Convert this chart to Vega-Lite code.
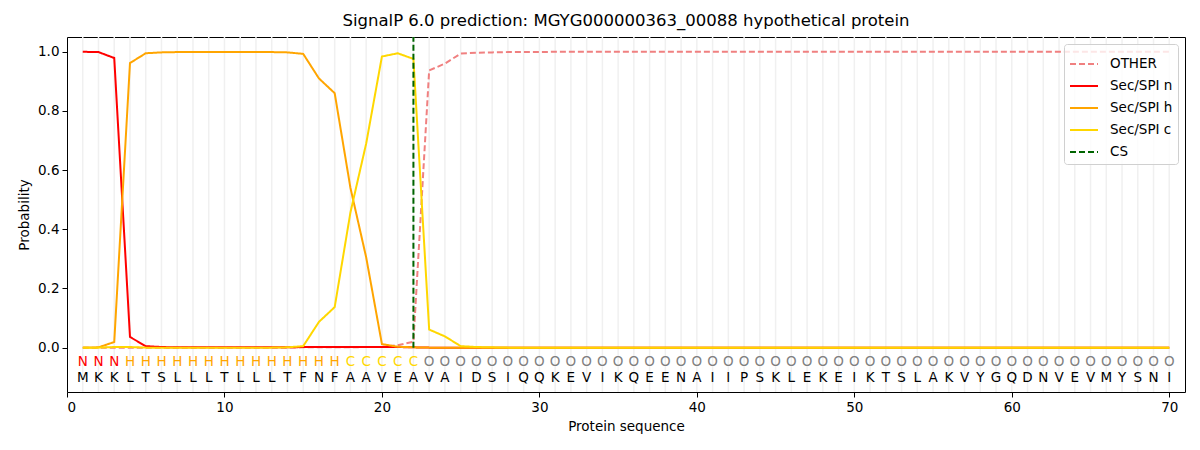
{
  "$schema": "https://vega.github.io/schema/vega-lite/v6.json",
  "width": 1118,
  "height": 355,
  "autosize": "none",
  "padding": {"left": 67, "top": 37, "right": 15, "bottom": 58},
  "title": {
    "text": "SignalP 6.0 prediction: MGYG000000363_00088 hypothetical protein",
    "fontSize": 16.5,
    "fontWeight": "normal",
    "color": "black",
    "offset": 7
  },
  "config": {
    "font": "DejaVu Sans",
    "view": {"stroke": "black", "strokeWidth": 1},
    "axis": {
      "labelFontSize": 13.5,
      "titleFontSize": 13.5,
      "titleFontWeight": "normal",
      "labelColor": "black",
      "titleColor": "black",
      "tickColor": "black",
      "tickSize": 5,
      "labelPadding": 3,
      "domain": false,
      "grid": false
    },
    "legend": {
      "orient": "top-right",
      "offset": 7,
      "fillColor": "rgba(255,255,255,0.8)",
      "strokeColor": "#d0d0d0",
      "cornerRadius": 3,
      "padding": 5,
      "labelFontSize": 13.5,
      "labelColor": "black",
      "labelOffset": 11,
      "symbolType": "stroke",
      "symbolStrokeWidth": 2,
      "symbolSize": 784,
      "rowPadding": 0
    }
  },
  "data": {
    "values": [
      {"pos": 1, "aa": "M", "lab": "N", "OTHER": 0.0, "n": 1.0, "h": 0.0, "c": 0.0},
      {"pos": 2, "aa": "K", "lab": "N", "OTHER": 0.0, "n": 0.999, "h": 0.001, "c": 0.0},
      {"pos": 3, "aa": "K", "lab": "N", "OTHER": 0.0, "n": 0.979, "h": 0.019, "c": 0.002},
      {"pos": 4, "aa": "L", "lab": "H", "OTHER": 0.0, "n": 0.036, "h": 0.962, "c": 0.002},
      {"pos": 5, "aa": "T", "lab": "H", "OTHER": 0.0, "n": 0.005, "h": 0.995, "c": 0.0},
      {"pos": 6, "aa": "S", "lab": "H", "OTHER": 0.0, "n": 0.002, "h": 0.998, "c": 0.0},
      {"pos": 7, "aa": "L", "lab": "H", "OTHER": 0.0, "n": 0.001, "h": 0.999, "c": 0.0},
      {"pos": 8, "aa": "L", "lab": "H", "OTHER": 0.0, "n": 0.001, "h": 0.999, "c": 0.0},
      {"pos": 9, "aa": "L", "lab": "H", "OTHER": 0.0, "n": 0.001, "h": 0.999, "c": 0.0},
      {"pos": 10, "aa": "T", "lab": "H", "OTHER": 0.0, "n": 0.001, "h": 0.999, "c": 0.0},
      {"pos": 11, "aa": "L", "lab": "H", "OTHER": 0.0, "n": 0.001, "h": 0.999, "c": 0.0},
      {"pos": 12, "aa": "L", "lab": "H", "OTHER": 0.0, "n": 0.001, "h": 0.999, "c": 0.0},
      {"pos": 13, "aa": "L", "lab": "H", "OTHER": 0.0, "n": 0.001, "h": 0.999, "c": 0.0},
      {"pos": 14, "aa": "T", "lab": "H", "OTHER": 0.0, "n": 0.001, "h": 0.998, "c": 0.001},
      {"pos": 15, "aa": "F", "lab": "H", "OTHER": 0.001, "n": 0.002, "h": 0.993, "c": 0.005},
      {"pos": 16, "aa": "N", "lab": "H", "OTHER": 0.001, "n": 0.002, "h": 0.91, "c": 0.087},
      {"pos": 17, "aa": "F", "lab": "H", "OTHER": 0.001, "n": 0.002, "h": 0.86, "c": 0.137},
      {"pos": 18, "aa": "A", "lab": "C", "OTHER": 0.001, "n": 0.002, "h": 0.54, "c": 0.457},
      {"pos": 19, "aa": "A", "lab": "C", "OTHER": 0.002, "n": 0.002, "h": 0.305, "c": 0.69},
      {"pos": 20, "aa": "V", "lab": "C", "OTHER": 0.002, "n": 0.002, "h": 0.012, "c": 0.984},
      {"pos": 21, "aa": "E", "lab": "C", "OTHER": 0.008, "n": 0.002, "h": 0.003, "c": 0.995},
      {"pos": 22, "aa": "A", "lab": "C", "OTHER": 0.02, "n": 0.001, "h": 0.001, "c": 0.976},
      {"pos": 23, "aa": "V", "lab": "O", "OTHER": 0.937, "n": 0.0, "h": 0.0, "c": 0.061},
      {"pos": 24, "aa": "A", "lab": "O", "OTHER": 0.96, "n": 0.0, "h": 0.0, "c": 0.038},
      {"pos": 25, "aa": "I", "lab": "O", "OTHER": 0.994, "n": 0.0, "h": 0.0, "c": 0.005},
      {"pos": 26, "aa": "D", "lab": "O", "OTHER": 0.997, "n": 0.0, "h": 0.0, "c": 0.002},
      {"pos": 27, "aa": "S", "lab": "O", "OTHER": 0.998, "n": 0.0, "h": 0.0, "c": 0.001},
      {"pos": 28, "aa": "I", "lab": "O", "OTHER": 0.999, "n": 0.0, "h": 0.0, "c": 0.0},
      {"pos": 29, "aa": "Q", "lab": "O", "OTHER": 0.999, "n": 0.0, "h": 0.0, "c": 0.0},
      {"pos": 30, "aa": "Q", "lab": "O", "OTHER": 0.999, "n": 0.0, "h": 0.0, "c": 0.0},
      {"pos": 31, "aa": "K", "lab": "O", "OTHER": 1.0, "n": 0.0, "h": 0.0, "c": 0.0},
      {"pos": 32, "aa": "E", "lab": "O", "OTHER": 1.0, "n": 0.0, "h": 0.0, "c": 0.0},
      {"pos": 33, "aa": "V", "lab": "O", "OTHER": 1.0, "n": 0.0, "h": 0.0, "c": 0.0},
      {"pos": 34, "aa": "I", "lab": "O", "OTHER": 1.0, "n": 0.0, "h": 0.0, "c": 0.0},
      {"pos": 35, "aa": "K", "lab": "O", "OTHER": 1.0, "n": 0.0, "h": 0.0, "c": 0.0},
      {"pos": 36, "aa": "Q", "lab": "O", "OTHER": 1.0, "n": 0.0, "h": 0.0, "c": 0.0},
      {"pos": 37, "aa": "E", "lab": "O", "OTHER": 1.0, "n": 0.0, "h": 0.0, "c": 0.0},
      {"pos": 38, "aa": "E", "lab": "O", "OTHER": 1.0, "n": 0.0, "h": 0.0, "c": 0.0},
      {"pos": 39, "aa": "N", "lab": "O", "OTHER": 1.0, "n": 0.0, "h": 0.0, "c": 0.0},
      {"pos": 40, "aa": "A", "lab": "O", "OTHER": 1.0, "n": 0.0, "h": 0.0, "c": 0.0},
      {"pos": 41, "aa": "I", "lab": "O", "OTHER": 1.0, "n": 0.0, "h": 0.0, "c": 0.0},
      {"pos": 42, "aa": "I", "lab": "O", "OTHER": 1.0, "n": 0.0, "h": 0.0, "c": 0.0},
      {"pos": 43, "aa": "P", "lab": "O", "OTHER": 1.0, "n": 0.0, "h": 0.0, "c": 0.0},
      {"pos": 44, "aa": "S", "lab": "O", "OTHER": 1.0, "n": 0.0, "h": 0.0, "c": 0.0},
      {"pos": 45, "aa": "K", "lab": "O", "OTHER": 1.0, "n": 0.0, "h": 0.0, "c": 0.0},
      {"pos": 46, "aa": "L", "lab": "O", "OTHER": 1.0, "n": 0.0, "h": 0.0, "c": 0.0},
      {"pos": 47, "aa": "E", "lab": "O", "OTHER": 1.0, "n": 0.0, "h": 0.0, "c": 0.0},
      {"pos": 48, "aa": "K", "lab": "O", "OTHER": 1.0, "n": 0.0, "h": 0.0, "c": 0.0},
      {"pos": 49, "aa": "E", "lab": "O", "OTHER": 1.0, "n": 0.0, "h": 0.0, "c": 0.0},
      {"pos": 50, "aa": "I", "lab": "O", "OTHER": 1.0, "n": 0.0, "h": 0.0, "c": 0.0},
      {"pos": 51, "aa": "K", "lab": "O", "OTHER": 1.0, "n": 0.0, "h": 0.0, "c": 0.0},
      {"pos": 52, "aa": "T", "lab": "O", "OTHER": 1.0, "n": 0.0, "h": 0.0, "c": 0.0},
      {"pos": 53, "aa": "S", "lab": "O", "OTHER": 1.0, "n": 0.0, "h": 0.0, "c": 0.0},
      {"pos": 54, "aa": "L", "lab": "O", "OTHER": 1.0, "n": 0.0, "h": 0.0, "c": 0.0},
      {"pos": 55, "aa": "A", "lab": "O", "OTHER": 1.0, "n": 0.0, "h": 0.0, "c": 0.0},
      {"pos": 56, "aa": "K", "lab": "O", "OTHER": 1.0, "n": 0.0, "h": 0.0, "c": 0.0},
      {"pos": 57, "aa": "V", "lab": "O", "OTHER": 1.0, "n": 0.0, "h": 0.0, "c": 0.0},
      {"pos": 58, "aa": "Y", "lab": "O", "OTHER": 1.0, "n": 0.0, "h": 0.0, "c": 0.0},
      {"pos": 59, "aa": "G", "lab": "O", "OTHER": 1.0, "n": 0.0, "h": 0.0, "c": 0.0},
      {"pos": 60, "aa": "Q", "lab": "O", "OTHER": 1.0, "n": 0.0, "h": 0.0, "c": 0.0},
      {"pos": 61, "aa": "D", "lab": "O", "OTHER": 1.0, "n": 0.0, "h": 0.0, "c": 0.0},
      {"pos": 62, "aa": "N", "lab": "O", "OTHER": 1.0, "n": 0.0, "h": 0.0, "c": 0.0},
      {"pos": 63, "aa": "V", "lab": "O", "OTHER": 1.0, "n": 0.0, "h": 0.0, "c": 0.0},
      {"pos": 64, "aa": "E", "lab": "O", "OTHER": 1.0, "n": 0.0, "h": 0.0, "c": 0.0},
      {"pos": 65, "aa": "V", "lab": "O", "OTHER": 1.0, "n": 0.0, "h": 0.0, "c": 0.0},
      {"pos": 66, "aa": "M", "lab": "O", "OTHER": 1.0, "n": 0.0, "h": 0.0, "c": 0.0},
      {"pos": 67, "aa": "Y", "lab": "O", "OTHER": 1.0, "n": 0.0, "h": 0.0, "c": 0.0},
      {"pos": 68, "aa": "S", "lab": "O", "OTHER": 1.0, "n": 0.0, "h": 0.0, "c": 0.0},
      {"pos": 69, "aa": "N", "lab": "O", "OTHER": 1.0, "n": 0.0, "h": 0.0, "c": 0.0},
      {"pos": 70, "aa": "I", "lab": "O", "OTHER": 1.0, "n": 0.0, "h": 0.0, "c": 0.0}
    ]
  },
  "layer": [
    {
      "mark": {"type": "rule", "color": "#f0f0f0", "strokeWidth": 1.5},
      "encoding": {
        "x": {
          "field": "pos",
          "type": "quantitative",
          "scale": {"domain": [0, 71], "nice": false, "zero": false},
          "axis": {"values": [0, 10, 20, 30, 40, 50, 60, 70], "title": "Protein sequence", "titlePadding": 6}
        }
      }
    },
    {
      "transform": [{"fold": ["OTHER", "n", "h", "c"], "as": ["series", "prob"]}],
      "mark": {"type": "line", "strokeWidth": 2},
      "encoding": {
        "x": {"field": "pos", "type": "quantitative"},
        "y": {
          "field": "prob",
          "type": "quantitative",
          "scale": {"domain": [-0.15, 1.05], "nice": false, "zero": false},
          "axis": {"values": [0, 0.2, 0.4, 0.6, 0.8, 1.0], "format": ".1f", "title": "Probability", "titlePadding": 6}
        },
        "color": {
          "field": "series",
          "type": "nominal",
          "scale": {
            "domain": ["OTHER", "n", "h", "c", "CS"],
            "range": ["#f08080", "#ff0000", "#ffa500", "#ffd700", "#006400"]
          },
          "legend": {
            "title": null,
            "labelExpr": "datum.label == 'n' ? 'Sec/SPI n' : datum.label == 'h' ? 'Sec/SPI h' : datum.label == 'c' ? 'Sec/SPI c' : datum.label"
          }
        },
        "strokeDash": {
          "field": "series",
          "type": "nominal",
          "scale": {
            "domain": ["OTHER", "n", "h", "c", "CS"],
            "range": [[6, 3], [1, 0], [1, 0], [1, 0], [6, 3]]
          },
          "legend": {
            "title": null,
            "labelExpr": "datum.label == 'n' ? 'Sec/SPI n' : datum.label == 'h' ? 'Sec/SPI h' : datum.label == 'c' ? 'Sec/SPI c' : datum.label"
          }
        }
      }
    },
    {
      "data": {"values": [{"pos": 22, "series": "CS"}]},
      "mark": {"type": "rule", "strokeWidth": 2},
      "encoding": {
        "x": {"field": "pos", "type": "quantitative"},
        "y": {"datum": 0},
        "y2": {"datum": 1.05},
        "color": {"field": "series", "type": "nominal"},
        "strokeDash": {"field": "series", "type": "nominal"}
      }
    },
    {
      "mark": {"type": "text", "fontSize": 13.5, "baseline": "middle", "align": "center"},
      "encoding": {
        "x": {"field": "pos", "type": "quantitative"},
        "y": {"datum": -0.047},
        "text": {"field": "lab"},
        "color": {
          "condition": [
            {"test": "datum.lab == 'N'", "value": "#ff0000"},
            {"test": "datum.lab == 'H'", "value": "#ffa500"},
            {"test": "datum.lab == 'C'", "value": "#ffd700"}
          ],
          "value": "#808080"
        }
      }
    },
    {
      "mark": {"type": "text", "fontSize": 13.5, "baseline": "middle", "align": "center", "color": "black"},
      "encoding": {
        "x": {"field": "pos", "type": "quantitative"},
        "y": {"datum": -0.102},
        "text": {"field": "aa"}
      }
    }
  ]
}
